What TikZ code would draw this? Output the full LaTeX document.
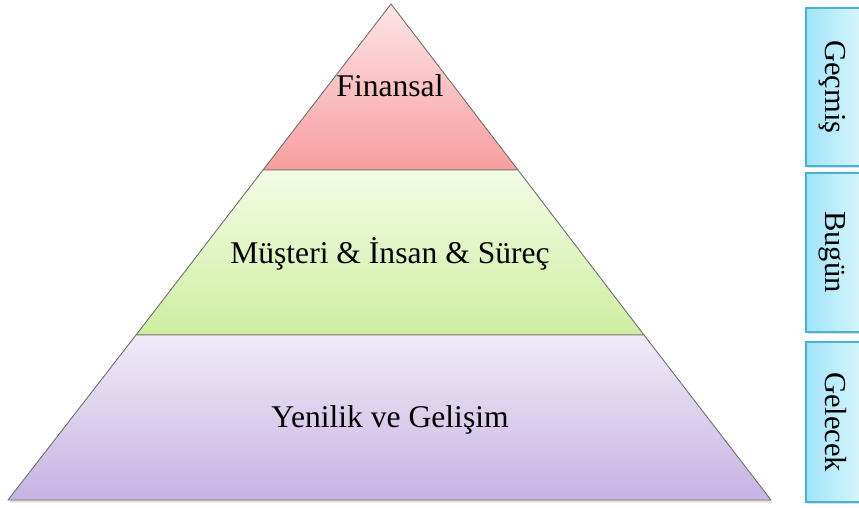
\documentclass[tikz,border=0pt]{standalone}
\usepackage{fontspec}
\setmainfont{Liberation Serif}
\usetikzlibrary{shadows}

\definecolor{pinkTop}{RGB}{253,228,230}
\definecolor{pinkBot}{RGB}{248,158,158}
\definecolor{greenTop}{RGB}{244,252,230}
\definecolor{greenBot}{RGB}{204,238,160}
\definecolor{purpleTop}{RGB}{240,234,248}
\definecolor{purpleBot}{RGB}{198,180,226}
\definecolor{cyanLeft}{RGB}{160,228,248}
\definecolor{cyanRight}{RGB}{218,246,253}
\definecolor{cyanEdge}{RGB}{70,180,206}
\definecolor{edgeGray}{RGB}{112,112,112}

\tikzset{
  layer/.style={draw=edgeGray, line width=0.9pt, line join=round},
  period/.style={draw=cyanEdge, line width=1.2pt, left color=cyanLeft, right color=cyanRight,
    drop shadow={shadow xshift=1.5pt, shadow yshift=-1.5pt, opacity=0.25}},
  label/.style={font=\fontsize{31.6}{36}\selectfont, inner sep=0pt, anchor=base},
  sidelabel/.style={font=\fontsize{30.5}{36}\selectfont, inner sep=0pt, anchor=base, rotate=-90}
}

\begin{document}
\begin{tikzpicture}[x=1pt, y=-1pt]
\useasboundingbox (0,0) rectangle (859,508);

% pyramid corner points
\coordinate (A)  at (391,4);
\coordinate (L1) at (263,170);
\coordinate (R1) at (518,170);
\coordinate (L2) at (136,335);
\coordinate (R2) at (644,335);
\coordinate (BL) at (8,500);
\coordinate (BR) at (771,500);

% soft shadow under the whole pyramid
\fill[black, opacity=0.12] ([xshift=1.5pt,yshift=-2.5pt]A) -- ([xshift=1.5pt,yshift=-2.5pt]BR) -- ([xshift=1.5pt,yshift=-2.5pt]BL) -- cycle;

% three layers, top to bottom
\path[layer, top color=pinkTop, bottom color=pinkBot] (A) -- (R1) -- (L1) -- cycle;
\path[layer, top color=greenTop, bottom color=greenBot] (L1) -- (R1) -- (R2) -- (L2) -- cycle;
\path[layer, top color=purpleTop, bottom color=purpleBot] (L2) -- (R2) -- (BR) -- (BL) -- cycle;

\node[label] (fin) at (390,97) {Finansal};
\node[label] (mis) at (390,263) {Müşteri \& İnsan \& Süreç};
\node[label] (yen) at (390,427) {Yenilik ve Gelişim};

% time boxes on the right
\path[period] (806,8) rectangle (864,166);
\path[period] (806,173) rectangle (864,332);
\path[period] (806,342) rectangle (864,502);

\node[sidelabel] (gec) at (825,87) {Geçmiş};
\node[sidelabel] (bug) at (825,252) {Bugün};
\node[sidelabel] (gel) at (825,422) {Gelecek};
\end{tikzpicture}
\end{document}
